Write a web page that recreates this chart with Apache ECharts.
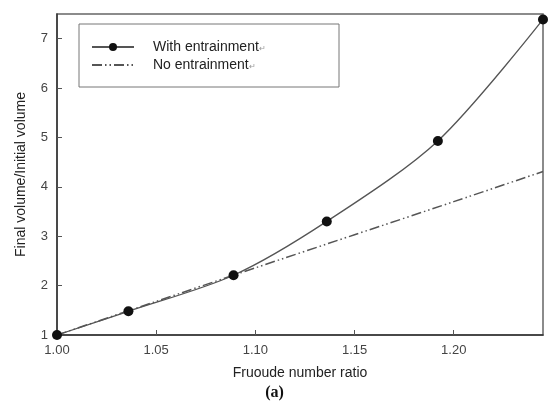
<!DOCTYPE html>
<html>
<head>
<meta charset="utf-8">
<script src="https://cdn.jsdelivr.net/npm/echarts@6/dist/echarts.min.js"></script>
<style>
  html, body { margin: 0; padding: 0; background: #fff; }
  #chart { width: 549px; height: 410px; }
</style>
</head>
<body>
<div id="chart"></div>
<script>
// 读图所得数据
const withX = [1.000, 1.036, 1.089, 1.136, 1.192, 1.245];
const withY = [1.00, 1.48, 2.21, 3.30, 4.93, 7.39];
const noX = [1.000, 1.050, 1.100, 1.150, 1.200, 1.245];
const noY = [1.00, 1.68, 2.36, 3.03, 3.70, 4.31];

const seriesNames = ['With entrainment', 'No entrainment'];

const chart = echarts.init(document.getElementById('chart'));

const labelStyle = { color: '#444', fontSize: 13, fontFamily: 'Liberation Sans, Arial' };

const option = {
  animation: false,
  grid: { left: 57, top: 14, right: 6, bottom: 75, show: true, borderColor: '#666', borderWidth: 1.5 },
  graphic: [
    {
      type: 'rect',
      shape: { x: 79, y: 24, width: 260, height: 63 },
      style: { fill: 'none', stroke: '#777', lineWidth: 1 }
    },
    {
      type: 'text',
      left: 'center',
      top: 385,
      style: { text: '(a)', font: 'bold 16px "Liberation Serif", serif', fill: '#111' }
    }
  ],
  legend: {
    left: 78,
    top: 40,
    orient: 'vertical',
    itemWidth: 42,
    itemHeight: 10,
    itemGap: 4,
    padding: [0, 0, 0, 13],
    data: [
      { name: seriesNames[0] },
      { name: seriesNames[1], itemStyle: { color: 'rgba(0,0,0,0)', borderWidth: 0 } }
    ],
    formatter: name => '{t|' + name + '}{m|↵}',
    textStyle: {
      rich: {
        t: { fontSize: 14, color: '#222', fontFamily: 'Liberation Sans, Arial', padding: [0, 0, 0, 14] },
        m: { fontSize: 8, color: '#999', padding: [4, 0, 0, 0] }
      }
    }
  },
  xAxis: {
    type: 'value',
    min: 1.0,
    max: 1.245,
    interval: 0.05,
    name: 'Fruoude number ratio',
    nameLocation: 'middle',
    nameGap: 31,
    nameTextStyle: { color: '#222', fontSize: 14, fontFamily: 'Liberation Sans, Arial' },
    axisLine: { lineStyle: { color: '#333', width: 1.5 } },
    axisTick: { inside: true, length: 5, lineStyle: { color: '#555' } },
    axisLabel: Object.assign({ margin: 9, showMaxLabel: false, formatter: v => v.toFixed(2) }, labelStyle),
    splitLine: { show: false }
  },
  yAxis: {
    type: 'value',
    min: 1,
    max: 7.5,
    interval: 1,
    name: 'Final volume/Initial volume',
    nameLocation: 'middle',
    nameGap: 29,
    nameTextStyle: { color: '#222', fontSize: 14, fontFamily: 'Liberation Sans, Arial' },
    axisLine: { lineStyle: { color: '#333', width: 1.5 } },
    axisTick: { inside: true, length: 5, lineStyle: { color: '#555' } },
    axisLabel: Object.assign({ margin: 9, showMaxLabel: false }, labelStyle),
    splitLine: { show: false }
  },
  series: [
    {
      name: seriesNames[0],
      type: 'line',
      smooth: 0.3,
      data: withX.map((x, i) => [x, withY[i]]),
      symbol: 'circle',
      symbolSize: 10,
      itemStyle: { color: '#111' },
      lineStyle: { color: '#555', width: 1.3 },
      z: 3
    },
    {
      name: seriesNames[1],
      type: 'line',
      smooth: 0.3,
      data: noX.map((x, i) => [x, noY[i]]),
      showSymbol: false,
      symbol: 'none',
      itemStyle: { color: '#555' },
      lineStyle: { color: '#555', width: 1.5, type: [10, 3, 1.5, 3, 1.5, 3] },
      z: 2
    }
  ]
};

chart.setOption(option);
</script>
</body>
</html>
